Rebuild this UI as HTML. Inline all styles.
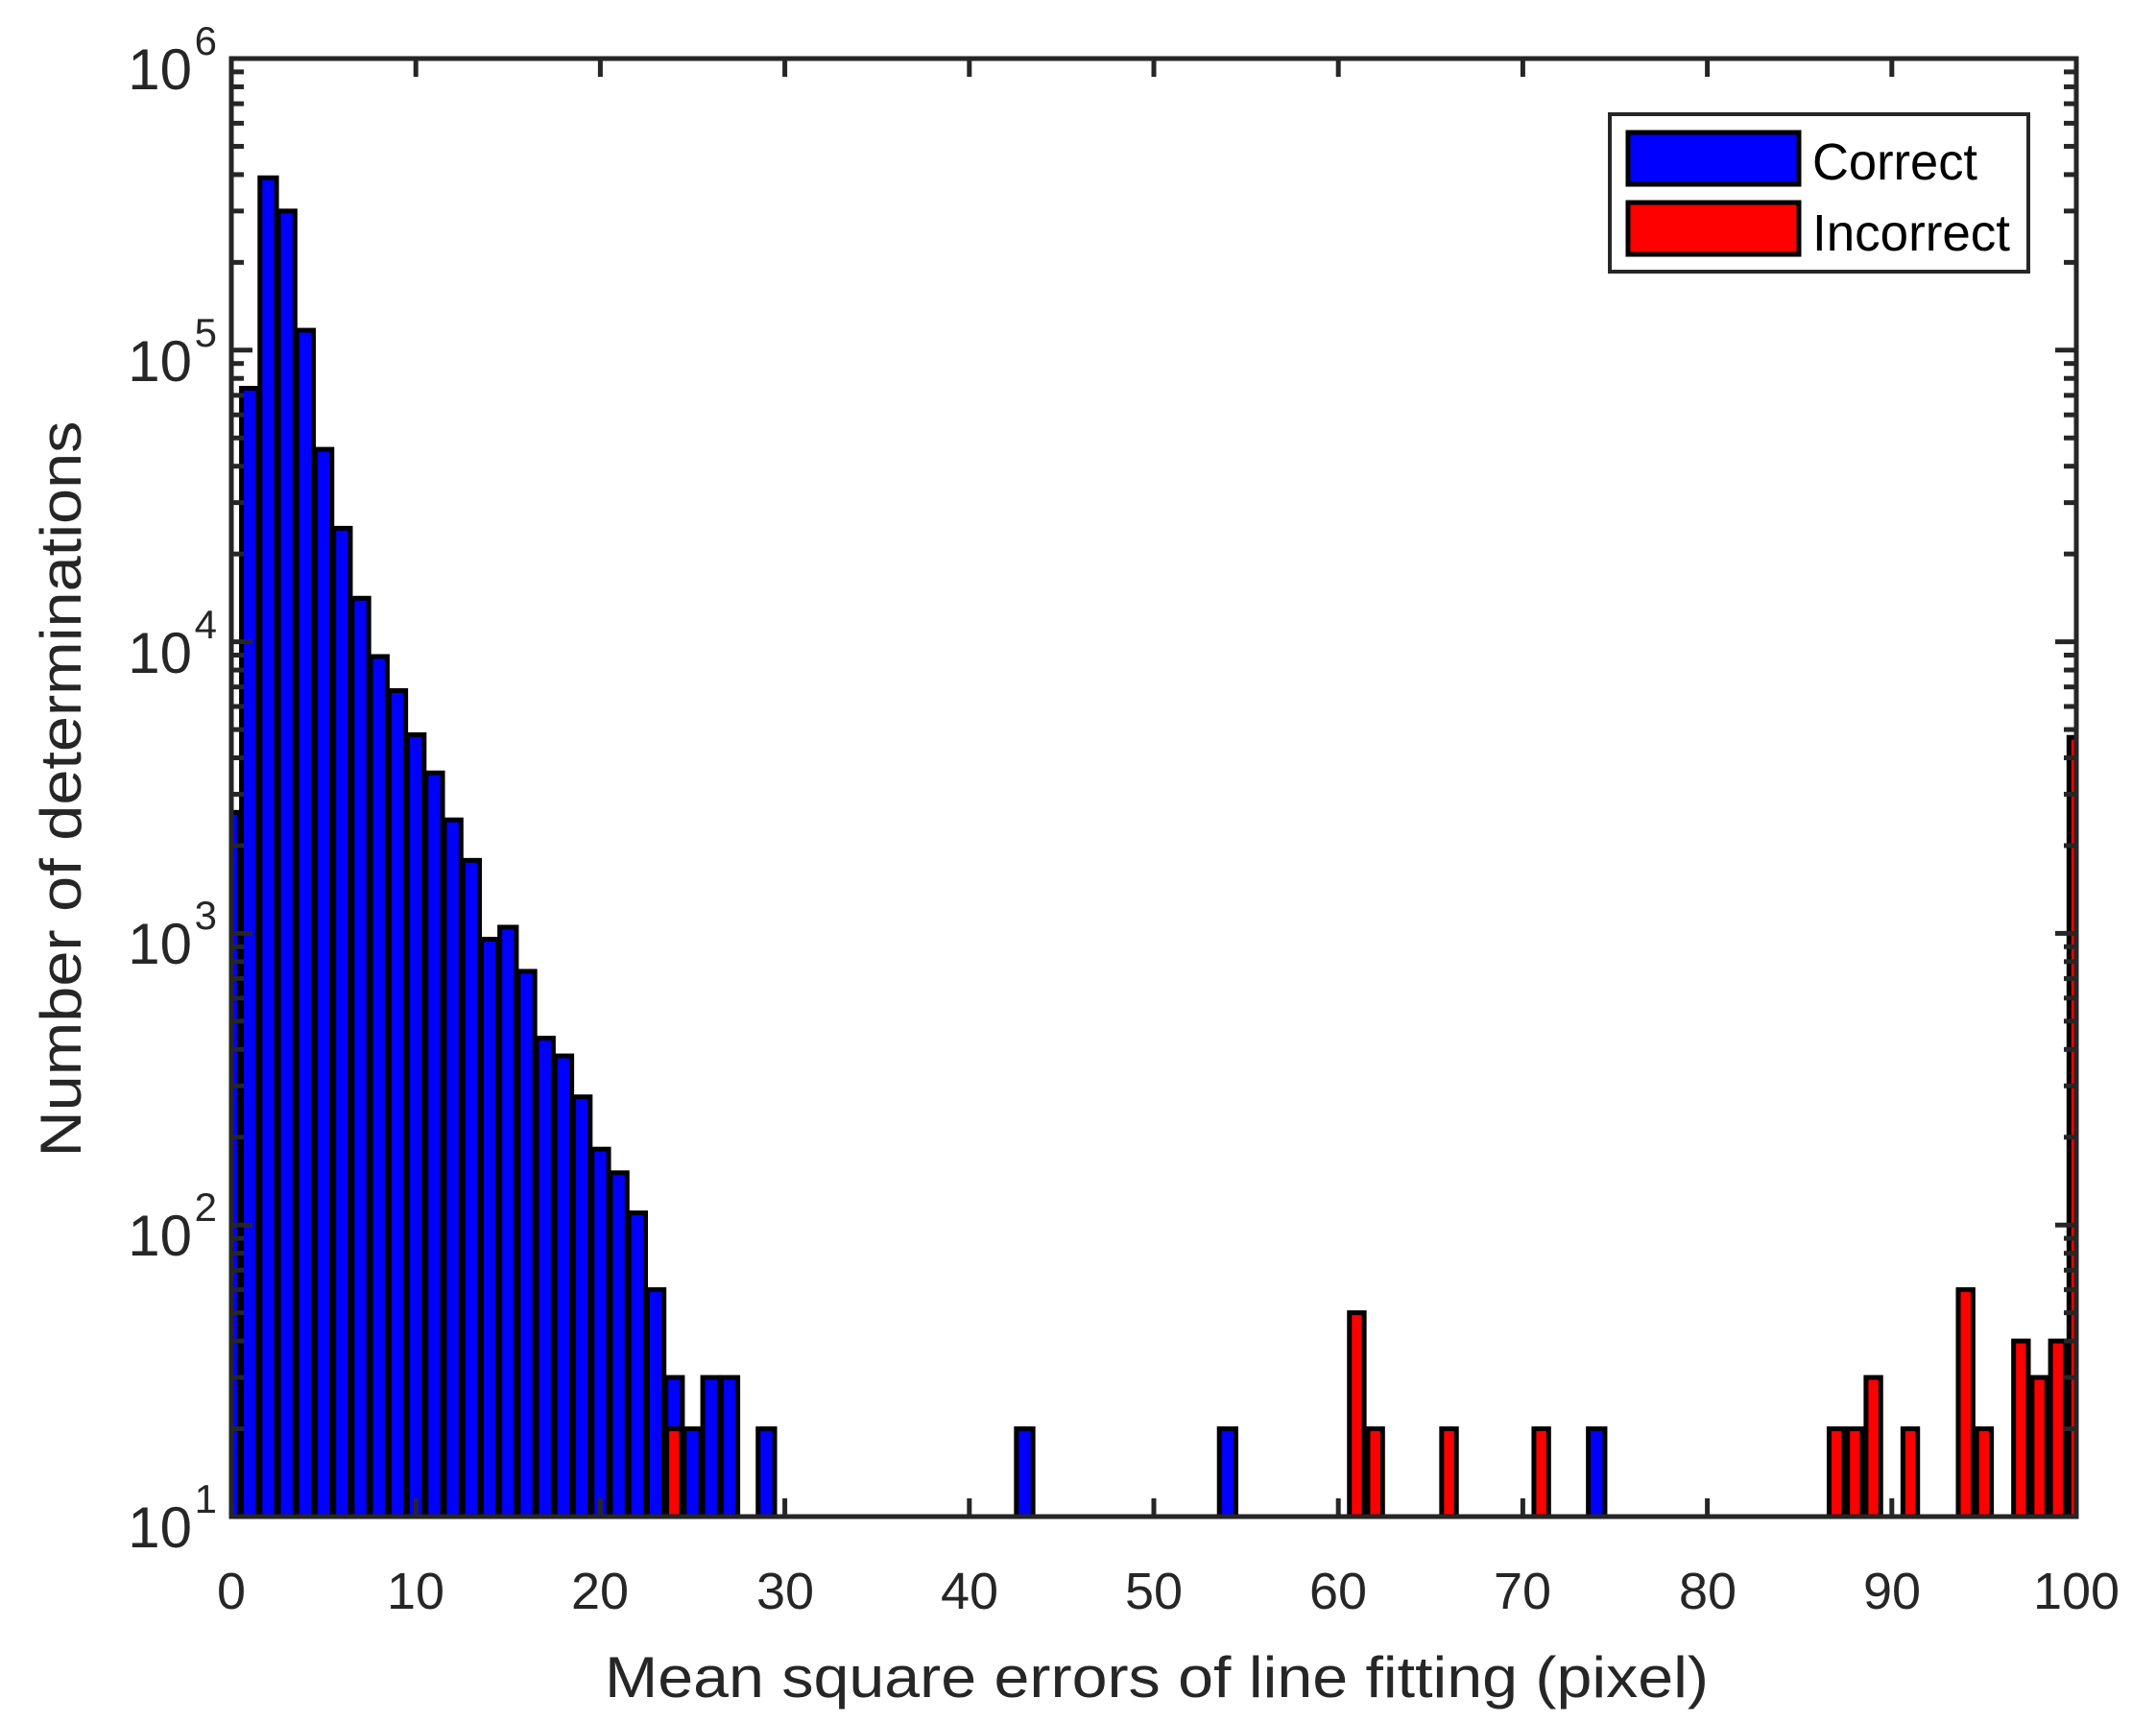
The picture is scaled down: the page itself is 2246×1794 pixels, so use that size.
<!DOCTYPE html>
<html><head><meta charset="utf-8"><style>
body{margin:0;background:#fff;}
svg{display:block;font-family:"Liberation Sans",sans-serif;}
</style></head><body>
<svg id="s" width="2246" height="1794" viewBox="0 0 2246 1794" xmlns="http://www.w3.org/2000/svg">
<rect width="2246" height="1794" fill="#fff"/>
<defs><clipPath id="c"><rect x="241" y="61" width="1922" height="1519"/></clipPath></defs>
<g id="bars" clip-path="url(#c)"></g>
<g id="ticks" stroke="#262626" stroke-width="5"></g>
<rect x="241" y="61" width="1922" height="1519" fill="none" stroke="#262626" stroke-width="5"/>
<g fill="#262626" font-size="54" text-anchor="middle">
<text x="241" y="1676">0</text><text x="433" y="1676">10</text><text x="625" y="1676">20</text>
<text x="818" y="1676">30</text><text x="1010" y="1676">40</text><text x="1202" y="1676">50</text>
<text x="1394" y="1676">60</text><text x="1586" y="1676">70</text><text x="1779" y="1676">80</text>
<text x="1971" y="1676">90</text><text x="2163" y="1676">100</text>
</g>
<g fill="#262626" font-size="60" text-anchor="end">
<text x="200" y="1612">10</text><text x="226" y="1576" font-size="42">1</text>
<text x="200" y="1308">10</text><text x="226" y="1272" font-size="42">2</text>
<text x="200" y="1004">10</text><text x="226" y="968" font-size="42">3</text>
<text x="200" y="701">10</text><text x="226" y="665" font-size="42">4</text>
<text x="200" y="397">10</text><text x="226" y="361" font-size="42">5</text>
<text x="200" y="93">10</text><text x="226" y="57" font-size="42">6</text>
</g>
<text x="1205" y="1768" font-size="60" fill="#262626" text-anchor="middle" textLength="1150" lengthAdjust="spacingAndGlyphs">Mean square errors of line fitting (pixel)</text>
<text transform="translate(84,822) rotate(-90)" font-size="60" fill="#262626" text-anchor="middle" textLength="767" lengthAdjust="spacingAndGlyphs">Number of determinations</text>
<rect x="1677" y="119" width="436" height="164" fill="#fff" stroke="#262626" stroke-width="4"/>
<rect x="1696" y="138" width="178" height="54" fill="#0000ff" stroke="#000" stroke-width="5"/>
<rect x="1696" y="211" width="178" height="54" fill="#ff0000" stroke="#000" stroke-width="5"/>
<text x="1888" y="187" font-size="54" fill="#000" textLength="172" lengthAdjust="spacingAndGlyphs">Correct</text>
<text x="1888" y="261" font-size="54" fill="#000" textLength="206" lengthAdjust="spacingAndGlyphs">Incorrect</text>
</svg>
<script>
var NS="http://www.w3.org/2000/svg";
function X(v){return 241+v*19.22;}
function Y(c){return 1580-(Math.log10(c)-1)*303.8;}
var blue={0:2600,1:74000,2:390000,3:300000,4:117000,5:45700,6:24500,7:14100,8:8900,9:6800,10:4800,11:3550,12:2450,13:1780,14:955,15:1050,16:741,17:437,18:380,19:275,20:182,21:151,22:110,23:60,24:30,25:20,26:30,27:30,29:20,43:20,54:20,74:20};
var red={24:20,61:50,62:20,66:20,71:20,87:20,88:20,89:30,91:20,94:60,95:20,97:40,98:30,99:40,100:4700};
var g=document.getElementById('bars');
function bar(v,c,w,col){var r=document.createElementNS(NS,'rect');var x0=X(v-w/2),x1=X(v+w/2),y=Y(c);
r.setAttribute('x',x0);r.setAttribute('y',y);r.setAttribute('width',x1-x0);r.setAttribute('height',1600-y);
r.setAttribute('fill',col);r.setAttribute('stroke','#000');r.setAttribute('stroke-width','5');g.appendChild(r);}
for(var k in blue)bar(+k,blue[k],0.9,'#0000ff');
for(var k in red)bar(+k,red[k],0.8,'#ff0000');
var t=document.getElementById('ticks');
function ln(a,b,c,d){var l=document.createElementNS(NS,'line');l.setAttribute('x1',a);l.setAttribute('y1',b);l.setAttribute('x2',c);l.setAttribute('y2',d);t.appendChild(l);}
for(var i=1;i<10;i++){var x=X(i*10);ln(x,1580,x,1561);ln(x,61,x,80);}
for(var e=1;e<6;e++)for(var m=1;m<10;m++){var y=Y(m*Math.pow(10,e));var L=(m==1)?22:13;ln(241,y,241+L,y);ln(2163,y,2163-L,y);}
</script>
</body></html>
